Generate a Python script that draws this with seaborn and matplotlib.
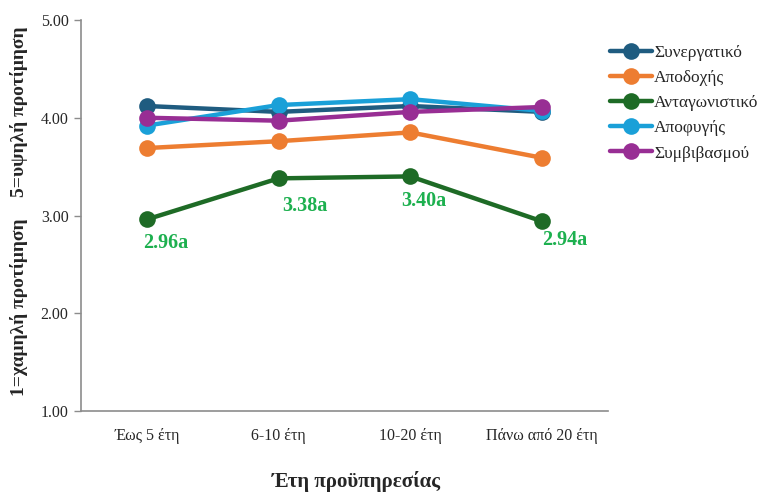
import matplotlib
matplotlib.use("Agg")
import matplotlib.pyplot as plt
import seaborn as sns
import pandas as pd

# Years of service groups
categories = ["Έως 5 έτη", "6-10 έτη", "10-20 έτη", "Πάνω από 20 έτη"]

# Mean preference per conflict-handling style
synergatiko = [4.12, 4.06, 4.12, 4.06]
apodoxis = [3.69, 3.76, 3.85, 3.59]
antagonistiko = [2.96, 3.38, 3.40, 2.94]
apofygis = [3.92, 4.13, 4.19, 4.07]
symvivasmou = [4.00, 3.97, 4.06, 4.11]

series_names = ["Συνεργατικό", "Αποδοχής", "Ανταγωνιστικό", "Αποφυγής", "Συμβιβασμού"]
series_values = [synergatiko, apodoxis, antagonistiko, apofygis, symvivasmou]
colors = ["#1F5C80", "#ED7D31", "#1E6B26", "#1AA0D8", "#982E94"]

# Labels shown next to the competitive-style points
comp_labels = [f"{v:.2f}a" for v in antagonistiko]
label_offsets = [(19, -24), (26, -28), (13, -25), (23, -19)]

yticks = [1.0, 2.0, 3.0, 4.0, 5.0]

rows = []
for name, vals in zip(series_names, series_values):
    for cat, v in zip(categories, vals):
        rows.append({"Έτη": cat, "Τιμή": v, "Στυλ": name})
df = pd.DataFrame(rows)

sns.set_style("white")
plt.rcParams["font.family"] = ["Liberation Serif", "DejaVu Serif"]

fig = plt.figure(figsize=(7.7, 4.93), dpi=100)
ax = fig.add_axes([81 / 770, 1 - 411 / 493, (608 - 81) / 770, (411 - 20) / 493])

sns.lineplot(
    data=df, x="Έτη", y="Τιμή", hue="Στυλ", hue_order=series_names,
    palette=colors, marker="o", markersize=12, markeredgewidth=0,
    linewidth=3.2, sort=False, ax=ax,
)

ax.set_xlim(-0.5, 3.5)
ax.set_ylim(1.0, 5.0)
ax.set_yticks(yticks)
ax.set_yticklabels([f"{t:.2f}" for t in yticks])
ax.set_xlabel("")
ax.set_ylabel("")

for s in ["top", "right"]:
    ax.spines[s].set_visible(False)
for s in ["left", "bottom"]:
    ax.spines[s].set_color("#8C8C8C")
    ax.spines[s].set_linewidth(1.2)

ax.tick_params(axis="y", length=5, width=1, color="#8C8C8C", labelsize=11.5, pad=4, left=True)
ax.tick_params(axis="x", length=0, labelsize=11.5, pad=12)

for i, (v, lab, off) in enumerate(zip(antagonistiko, comp_labels, label_offsets)):
    ax.annotate(lab, xy=(i, v), xytext=off, textcoords="offset pixels",
                ha="center", va="center", fontsize=14.5, fontweight="bold",
                color="#1DB04F")

leg = ax.legend(
    loc="upper left", bbox_to_anchor=(594 / 770, 1 - 29 / 493),
    bbox_transform=fig.transFigure, frameon=False, fontsize=12.5,
    handlelength=2.45, handletextpad=0.1, labelspacing=0.52,
)

fig.text(19 / 770, 1 - 112 / 493, "5=υψηλή προτίμηση", rotation=90, ha="center",
         va="center", fontsize=14, fontweight="bold")
fig.text(19 / 770, 1 - 307 / 493, "1=χαμηλή προτίμηση", rotation=90, ha="center",
         va="center", fontsize=14, fontweight="bold")
fig.text(356 / 770, 1 - 481 / 493, "Έτη προϋπηρεσίας", ha="center", va="center",
         fontsize=15, fontweight="bold")

fig.savefig("out.png", dpi=100)
